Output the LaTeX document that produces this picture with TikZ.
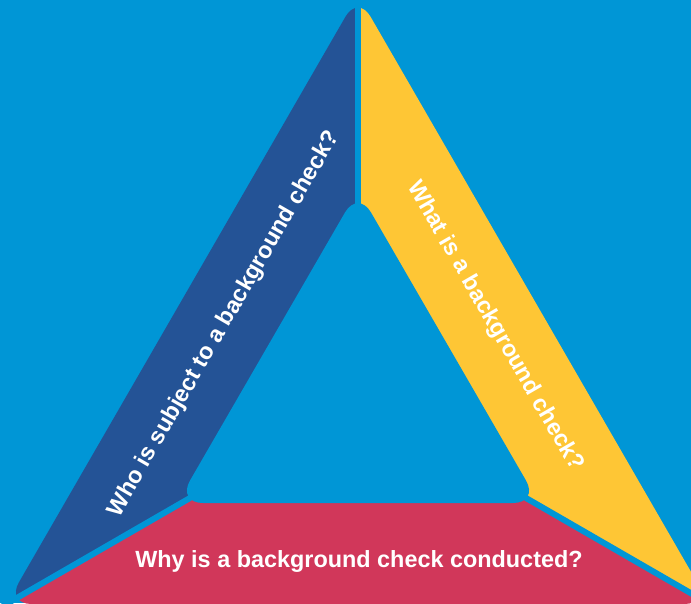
\documentclass[tikz,border=0pt]{standalone}
\usepackage{fontspec}
\setmainfont{Liberation Sans}
\usetikzlibrary{calc}
\definecolor{bgblue}{RGB}{0,150,214}
\definecolor{bandblue}{RGB}{36,83,150}
\definecolor{bandyellow}{RGB}{254,198,53}
\definecolor{bandred}{RGB}{209,55,90}
\begin{document}
\begin{tikzpicture}[x=1pt,y=-1pt,
  bandtext/.style={text=white, font=\bfseries\fontsize{23.4}{28}\selectfont, text height=16.8pt, text depth=0pt, inner sep=0pt},
  gap/.style={bgblue, line width=6pt}]
\useasboundingbox (0,0) rectangle (691,603);
\fill[bgblue] (0,0) rectangle (691,603);
\coordinate (O) at (358,401);
\coordinate (A) at (358,-5);
\coordinate (B) at (6.4,604);
\coordinate (C) at (709.6,604);
\coordinate (a) at (358,190);
\coordinate (b) at (177,503);
\coordinate (c) at (539,503);
% blue band
\begin{scope}
\clip (O) -- ($(O)!1.5!(A)$) -- ($(O)!1.5!(B)$) -- cycle;
\fill[bandblue, rounded corners=25pt] ($(A)!0.5!(B)$) -- (B) -- (C) -- (A) -- cycle;
\end{scope}
% yellow band
\begin{scope}
\clip (O) -- ($(O)!1.5!(A)$) -- ($(O)!1.5!(C)$) -- cycle;
\fill[bandyellow, rounded corners=25pt] ($(A)!0.5!(B)$) -- (B) -- (C) -- (A) -- cycle;
\end{scope}
% red band
\begin{scope}
\clip (O) -- ($(O)!1.5!(B)$) -- ($(O)!1.5!(C)$) -- cycle;
\fill[bandred, rounded corners=25pt] ($(A)!0.5!(B)$) -- (B) -- (C) -- (A) -- cycle;
\end{scope}
% inner hole
\fill[bgblue, rounded corners=26pt] ($(a)!0.5!(b)$) -- (b) -- (c) -- (a) -- cycle;
% gaps
\draw[gap] (O) -- ($(O)!1.2!(A)$);
\draw[gap] (O) -- ($(O)!1.2!(B)$);
\draw[gap] (O) -- ($(O)!1.2!(C)$);
% texts
\node[bandtext, rotate=60] (who) at (222,323) {Who is subject to a background check?};
\node[bandtext, rotate=-60] (what) at (497,325) {What is a background check?};
\node[bandtext, anchor=base] (why) at (359,567) {Why is a background check conducted?};
\end{tikzpicture}
\end{document}
